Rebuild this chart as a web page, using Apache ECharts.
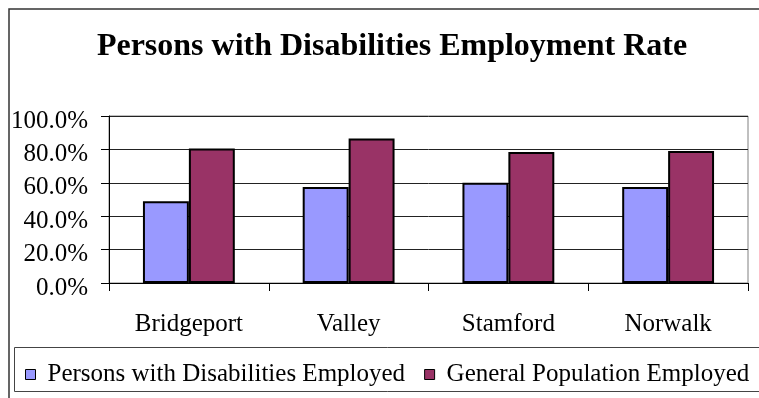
<!DOCTYPE html>
<html>
<head>
<meta charset="utf-8">
<script src="https://cdn.jsdelivr.net/npm/echarts@6/dist/echarts.min.js"></script>
<style>
  html, body { margin: 0; padding: 0; background: #fff; }
  #chart { width: 759px; height: 398px; }
</style>
</head>
<body>
<div id="chart"></div>
<script>
// Employment rate by region (percent)
var regions = ['Bridgeport', 'Valley', 'Stamford', 'Norwalk'];
var disabledEmployed = [49.0, 57.5, 60.0, 57.5];
var generalEmployed = [80.5, 86.5, 78.5, 79.0];
var seriesNames = ['Persons with Disabilities Employed', 'General Population Employed'];
var yTicks = [0, 20, 40, 60, 80, 100];

var serif = '"Liberation Serif", "Times New Roman", serif';

var chart = echarts.init(document.getElementById('chart'), null, { renderer: 'canvas' });

chart.setOption({
  backgroundColor: '#ffffff',
  animation: false,
  title: {
    text: 'Persons with Disabilities Employment Rate',
    left: 387,
    top: 26,
    textAlign: 'center',
    textStyle: { fontFamily: serif, fontWeight: 'bold', fontSize: 32, color: '#000' }
  },
  grid: {
    left: 109, right: 11, top: 116, bottom: 115,
    show: true, borderColor: '#808080', borderWidth: 1
  },
  legend: {
    data: seriesNames,
    left: 20, top: 357,
    itemWidth: 10, itemHeight: 10, itemGap: 19,
    icon: 'rect',
    itemStyle: { borderColor: '#000', borderWidth: 1 },
    textStyle: { fontFamily: serif, fontSize: 25, color: '#000', padding: [0, 0, 0, 7] }
  },
  xAxis: {
    type: 'category',
    data: regions,
    axisLine: { show: true, lineStyle: { color: '#000', width: 1 } },
    axisTick: { show: true, length: 8, alignWithLabel: false, lineStyle: { color: '#000' } },
    axisLabel: { fontFamily: serif, fontSize: 25, color: '#000', margin: 29 }
  },
  yAxis: {
    type: 'value',
    min: yTicks[0], max: yTicks[yTicks.length - 1], interval: 20,
    axisLine: { show: true, lineStyle: { color: '#000', width: 1 } },
    axisTick: { show: true, length: 8, lineStyle: { color: '#000' } },
    splitLine: { show: true, lineStyle: { color: '#222', width: 1 } },
    axisLabel: {
      margin: 21,
      formatter: function (v) { return '{v|' + v.toFixed(1) + '%}'; },
      rich: {
        v: { fontFamily: serif, fontSize: 25, color: '#000', padding: [10, 0, 0, 0] }
      }
    }
  },
  series: [
    {
      name: seriesNames[0], type: 'bar', data: disabledEmployed,
      barGap: '0%', barCategoryGap: '42.5%',
      itemStyle: { color: '#9999FF', borderColor: '#000', borderWidth: 2 }
    },
    {
      name: seriesNames[1], type: 'bar', data: generalEmployed,
      itemStyle: { color: '#993366', borderColor: '#000', borderWidth: 2 }
    }
  ],
  graphic: [
    {
      type: 'rect', z: -1, silent: true,
      shape: { x: 9, y: 9, width: 780, height: 420 },
      style: { fill: 'none', stroke: '#333', lineWidth: 1.5 }
    },
    {
      type: 'rect', silent: true,
      shape: { x: 14.5, y: 347.5, width: 780, height: 44 },
      style: { fill: 'none', stroke: '#444', lineWidth: 1 }
    }
  ]
});
</script>
</body>
</html>
